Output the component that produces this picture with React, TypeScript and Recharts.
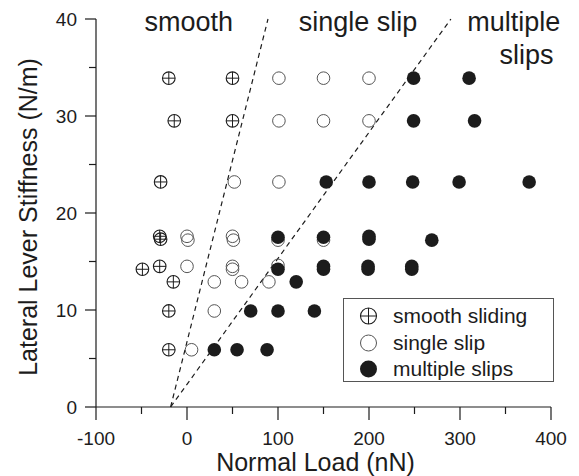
import React from 'react';
import { ScatterChart, Scatter, XAxis, YAxis, ReferenceLine, ReferenceDot, Legend, Label } from 'recharts';

interface Point {
  load: number;
  stiffness: number;
}

// smooth sliding (circle with cross)
const smoothSliding: Point[] = [
  { load: -20, stiffness: 33.9 },
  { load: 50, stiffness: 33.9 },
  { load: -14, stiffness: 29.5 },
  { load: 50, stiffness: 29.5 },
  { load: -29, stiffness: 23.2 },
  { load: -30, stiffness: 17.6 },
  { load: -29, stiffness: 17.3 },
  { load: -49, stiffness: 14.2 },
  { load: -30, stiffness: 14.5 },
  { load: -15, stiffness: 12.9 },
  { load: -20, stiffness: 9.9 },
  { load: -20, stiffness: 5.9 },
];

// single slip (open circle)
const singleSlip: Point[] = [
  { load: 101, stiffness: 33.9 },
  { load: 150, stiffness: 33.9 },
  { load: 200, stiffness: 33.9 },
  { load: 101, stiffness: 29.5 },
  { load: 150, stiffness: 29.5 },
  { load: 200, stiffness: 29.5 },
  { load: 52, stiffness: 23.2 },
  { load: 101, stiffness: 23.2 },
  { load: 0, stiffness: 17.6 },
  { load: 1, stiffness: 17.2 },
  { load: 50, stiffness: 17.6 },
  { load: 51, stiffness: 17.2 },
  { load: 100, stiffness: 17.2 },
  { load: 150, stiffness: 17.2 },
  { load: 0, stiffness: 14.5 },
  { load: 50, stiffness: 14.5 },
  { load: 50, stiffness: 14.2 },
  { load: 100, stiffness: 14.6 },
  { load: 30, stiffness: 12.9 },
  { load: 60, stiffness: 12.9 },
  { load: 90, stiffness: 12.9 },
  { load: 30, stiffness: 9.9 },
  { load: 5, stiffness: 5.9 },
];

// multiple slips (filled circle)
const multipleSlips: Point[] = [
  { load: 249, stiffness: 33.9 },
  { load: 310, stiffness: 33.9 },
  { load: 249, stiffness: 29.5 },
  { load: 316, stiffness: 29.5 },
  { load: 153, stiffness: 23.2 },
  { load: 200, stiffness: 23.2 },
  { load: 248, stiffness: 23.2 },
  { load: 299, stiffness: 23.2 },
  { load: 376, stiffness: 23.2 },
  { load: 100, stiffness: 17.5 },
  { load: 150, stiffness: 17.5 },
  { load: 200, stiffness: 17.6 },
  { load: 200, stiffness: 17.3 },
  { load: 269, stiffness: 17.2 },
  { load: 100, stiffness: 14.2 },
  { load: 150, stiffness: 14.5 },
  { load: 150, stiffness: 14.2 },
  { load: 199, stiffness: 14.5 },
  { load: 199, stiffness: 14.2 },
  { load: 247, stiffness: 14.5 },
  { load: 247, stiffness: 14.2 },
  { load: 120, stiffness: 12.9 },
  { load: 70, stiffness: 9.9 },
  { load: 100, stiffness: 9.9 },
  { load: 140, stiffness: 9.9 },
  { load: 30, stiffness: 5.9 },
  { load: 55, stiffness: 5.9 },
  { load: 88, stiffness: 5.9 },
];

const xTicks = [-100, -50, 0, 50, 100, 150, 200, 250, 300, 350, 400];
const yTicks = [0, 5, 10, 15, 20, 25, 30, 35, 40];

// dashed regime boundaries
const smoothBoundary = [{ x: -18, y: 0 }, { x: 89, y: 40 }];
const slipBoundary = [{ x: -18, y: 0 }, { x: 290, y: 40 }];

const legendItems = [
  { label: 'smooth sliding', kind: 'cross' },
  { label: 'single slip', kind: 'open' },
  { label: 'multiple slips', kind: 'filled' },
];

const FONT = '"Liberation Sans", Arial, Helvetica, sans-serif';
const INK = '#1c1c1c';

const Marker = ({ cx, cy, kind, r }: { cx: number; cy: number; kind: string; r: number }) => {
  if (kind === 'filled') return <circle cx={cx} cy={cy} r={r + 0.5} fill={INK} />;
  if (kind === 'open') return <circle cx={cx} cy={cy} r={r} fill="none" stroke="#555" strokeWidth={1} />;
  return (
    <g>
      <circle cx={cx} cy={cy} r={r} fill="none" stroke={INK} strokeWidth={1.1} />
      <line x1={cx - r} y1={cy} x2={cx + r} y2={cy} stroke={INK} strokeWidth={1} />
      <line x1={cx} y1={cy - r} x2={cx} y2={cy + r} stroke={INK} strokeWidth={1} />
    </g>
  );
};

const shapeFor = (kind: string) => (props: any) => <Marker cx={props.cx} cy={props.cy} kind={kind} r={6.3} />;

const XTick = (props: any) => {
  const { x, y, payload } = props;
  const major = payload.value % 100 === 0;
  return (
    <g>
      <line x1={x} y1={y} x2={x} y2={y + (major ? 13 : 7)} stroke={INK} strokeWidth={1.2} />
      {major && (
        <text x={x} y={y + 38} textAnchor="middle" fontSize={19} fill={INK} fontFamily={FONT}>
          {payload.value}
        </text>
      )}
    </g>
  );
};

const YTick = (props: any) => {
  const { x, y, payload } = props;
  const major = payload.value % 10 === 0;
  return (
    <g>
      <line x1={x} y1={y} x2={x - (major ? 11 : 7)} y2={y} stroke={INK} strokeWidth={1.2} />
      {major && (
        <text x={x - 19} y={y + 7} textAnchor="end" fontSize={19} fill={INK} fontFamily={FONT}>
          {payload.value}
        </text>
      )}
    </g>
  );
};

const renderLegend = () => (
  <div
    style={{
      boxSizing: 'border-box',
      width: '100%',
      height: '100%',
      border: '1px solid #555',
      background: '#fff',
      paddingTop: 4,
      fontFamily: FONT,
      fontSize: 21,
      color: INK,
    }}
  >
    {legendItems.map((item) => (
      <div key={item.label} style={{ display: 'flex', alignItems: 'center', height: 26.5 }}>
        <svg width={49} height={22} style={{ flex: 'none' }}>
          <Marker cx={24.5} cy={11} kind={item.kind} r={8} />
        </svg>
        <span style={{ lineHeight: '22px' }}>{item.label}</span>
      </div>
    ))}
  </div>
);

const annotation = (value: string) => ({ value, position: 'center' as const, fontSize: 27, fill: INK, fontFamily: FONT });

const App: React.FC = () => (
  <ScatterChart width={571} height={468} margin={{ top: 11, right: 28, bottom: 0, left: 0 }} style={{ fontFamily: FONT }}>
    <XAxis
      type="number"
      dataKey="load"
      domain={[-100, 400]}
      ticks={xTicks}
      interval={0}
      tickSize={0}
      tickMargin={0}
      tickLine={false}
      tick={<XTick />}
      height={69}
      axisLine={{ stroke: INK, strokeWidth: 1.2 }}
      allowDataOverflow
    >
      <Label
        content={({ viewBox }: any) => (
          <text x={viewBox.x + viewBox.width / 2 - 8} y={viewBox.y + 64} textAnchor="middle" fontSize={25} fill={INK} fontFamily={FONT}>
            Normal Load (nN)
          </text>
        )}
      />
    </XAxis>
    <YAxis
      type="number"
      dataKey="stiffness"
      domain={[0, 40]}
      ticks={yTicks}
      interval={0}
      tickSize={0}
      tickMargin={0}
      tickLine={false}
      tick={<YTick />}
      width={88}
      axisLine={{ stroke: INK, strokeWidth: 1.2 }}
      allowDataOverflow
    >
      <Label
        content={({ viewBox }: any) => {
          const cx = 28.7;
          const cy = viewBox.y + viewBox.height / 2 + 4;
          return (
            <text x={cx} y={cy} transform={`rotate(-90 ${cx} ${cy})`} textAnchor="middle" fontSize={25} fill={INK} fontFamily={FONT}>
              Lateral Lever Stiffness (N/m)
            </text>
          );
        }}
      />
    </YAxis>
    <ReferenceLine segment={smoothBoundary} stroke={INK} strokeWidth={1.2} strokeDasharray="5 4" ifOverflow="visible" />
    <ReferenceLine segment={slipBoundary} stroke={INK} strokeWidth={1.2} strokeDasharray="5 4" ifOverflow="visible" />
    <ReferenceDot x={2} y={39.75} r={0} fill="none" stroke="none" ifOverflow="visible" label={annotation('smooth')} />
    <ReferenceDot x={188} y={39.75} r={0} fill="none" stroke="none" ifOverflow="visible" label={annotation('single slip')} />
    <ReferenceDot x={359} y={39.75} r={0} fill="none" stroke="none" ifOverflow="visible" label={annotation('multiple')} />
    <ReferenceDot x={373} y={36.35} r={0} fill="none" stroke="none" ifOverflow="visible" label={annotation('slips')} />
    <Scatter name="single slip" data={singleSlip} shape={shapeFor('open')} isAnimationActive={false} />
    <Scatter name="smooth sliding" data={smoothSliding} shape={shapeFor('cross')} isAnimationActive={false} />
    <Scatter name="multiple slips" data={multipleSlips} shape={shapeFor('filled')} isAnimationActive={false} />
    <Legend
      layout="horizontal"
      verticalAlign="middle"
      align="center"
      content={renderLegend}
      wrapperStyle={{ left: 335, top: 290, width: 211, height: 84 }}
    />
  </ScatterChart>
);

export default App;
